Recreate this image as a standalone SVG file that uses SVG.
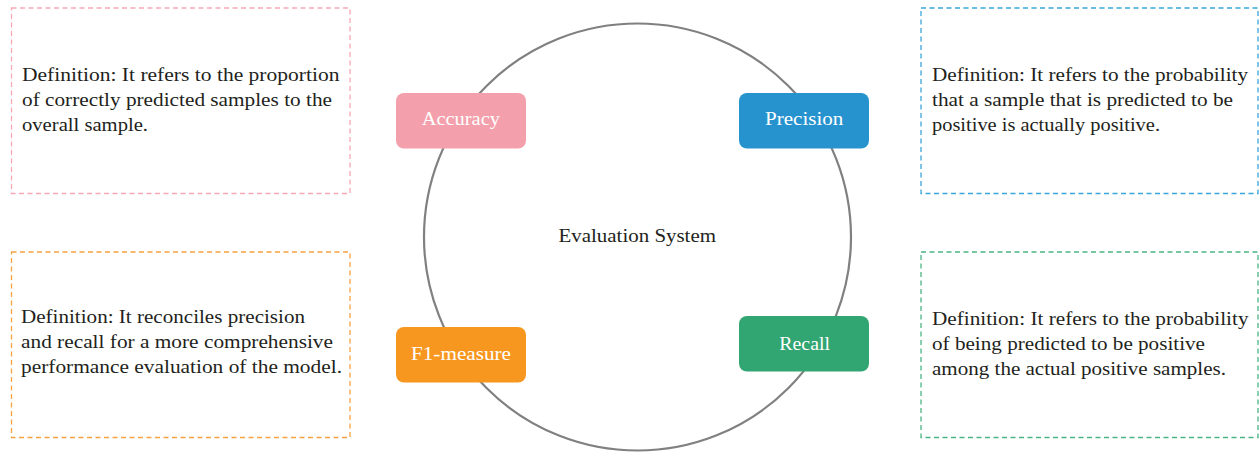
<svg xmlns="http://www.w3.org/2000/svg" width="1260" height="453" viewBox="0 0 1260 453">
<style>
.def{fill:none;stroke-width:1.3;stroke-dasharray:5 3.5}
.txt{font-family:"Liberation Serif","Times New Roman",serif;font-size:19px;fill:#231F20}
.lbl{font-family:"Liberation Serif","Times New Roman",serif;font-size:19px;fill:#FFFFFF}
.node{stroke:none}
</style>
<rect width="1260" height="453" fill="#FFFFFF"/>
<g id="connectors">
<circle cx="637.5" cy="237" r="213.5" fill="none" stroke="#808080" stroke-width="2.2"/>
</g>
<g id="def-accuracy">
<rect class="def" x="11.5" y="8" width="338.5" height="185.5" stroke="#F6A8B4"/>
<text class="txt" x="22" y="81" textLength="317.5" lengthAdjust="spacingAndGlyphs">Definition: It refers to the proportion</text>
<text class="txt" x="22" y="106" textLength="310" lengthAdjust="spacingAndGlyphs">of correctly predicted samples to the</text>
<text class="txt" x="22" y="131" textLength="126" lengthAdjust="spacingAndGlyphs">overall sample.</text>
</g>
<g id="def-precision">
<rect class="def" x="921" y="8" width="337" height="185.5" stroke="#3AA6DB"/>
<text class="txt" x="932" y="81" textLength="316" lengthAdjust="spacingAndGlyphs">Definition: It refers to the probability</text>
<text class="txt" x="932" y="106" textLength="301" lengthAdjust="spacingAndGlyphs">that a sample that is predicted to be</text>
<text class="txt" x="932" y="131" textLength="228" lengthAdjust="spacingAndGlyphs">positive is actually positive.</text>
</g>
<g id="def-f1">
<rect class="def" x="11.5" y="252" width="338.5" height="185.5" stroke="#F5A340"/>
<text class="txt" x="21" y="323" textLength="284" lengthAdjust="spacingAndGlyphs">Definition: It reconciles precision</text>
<text class="txt" x="21" y="348" textLength="312" lengthAdjust="spacingAndGlyphs">and recall for a more comprehensive</text>
<text class="txt" x="21" y="373" textLength="321" lengthAdjust="spacingAndGlyphs">performance evaluation of the model.</text>
</g>
<g id="def-recall">
<rect class="def" x="921" y="252" width="337" height="185.5" stroke="#4CB484"/>
<text class="txt" x="932" y="325" textLength="316.5" lengthAdjust="spacingAndGlyphs">Definition: It refers to the probability</text>
<text class="txt" x="932" y="350" textLength="273" lengthAdjust="spacingAndGlyphs">of being predicted to be positive</text>
<text class="txt" x="932" y="375" textLength="294" lengthAdjust="spacingAndGlyphs">among the actual positive samples.</text>
</g>
<g id="center">
<text class="txt" x="558.5" y="242" textLength="157.5" lengthAdjust="spacingAndGlyphs">Evaluation System</text>
</g>
<g id="accuracy">
<rect class="node" x="396" y="93" width="130" height="55.5" rx="8" fill="#F4A0AC"/>
<text class="lbl" x="421.7" y="125" textLength="78.3" lengthAdjust="spacingAndGlyphs">Accuracy</text>
</g>
<g id="precision">
<rect class="node" x="739" y="93" width="130" height="55.5" rx="8" fill="#2693CF"/>
<text class="lbl" x="765" y="125" textLength="78.3" lengthAdjust="spacingAndGlyphs">Precision</text>
</g>
<g id="f1">
<rect class="node" x="396" y="327" width="130" height="55.5" rx="8" fill="#F7971F"/>
<text class="lbl" x="411" y="360" textLength="100" lengthAdjust="spacingAndGlyphs">F1-measure</text>
</g>
<g id="recall">
<rect class="node" x="739" y="316" width="130" height="55.5" rx="8" fill="#31A572"/>
<text class="lbl" x="779.3" y="350" textLength="50.7" lengthAdjust="spacingAndGlyphs">Recall</text>
</g>
</svg>
